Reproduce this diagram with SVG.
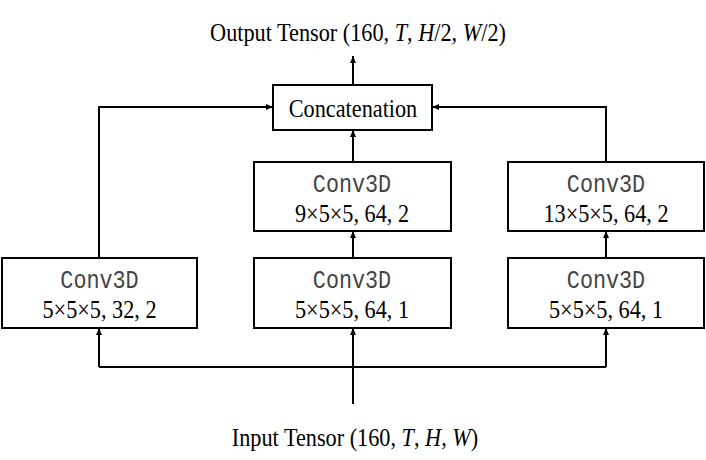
<svg xmlns="http://www.w3.org/2000/svg" width="706" height="460" viewBox="0 0 706 460">
<style>
.box{fill:#fff;stroke:#000;stroke-width:2}
.ln{fill:none;stroke:#000;stroke-width:2}
.serif{font-family:"Liberation Serif","Times New Roman",serif;font-size:25px;fill:#000;text-anchor:middle}
.mono{font-family:"Liberation Mono","Courier New",monospace;font-size:25px;fill:#444;text-anchor:middle}
</style>
<defs>
<marker id="ah" markerWidth="8" markerHeight="8" refX="7" refY="4" orient="auto" markerUnits="userSpaceOnUse">
<path d="M0,1 L7,4 L0,7 z" fill="#000"/>
</marker>
</defs>
<rect width="706" height="460" fill="#fff"/>
<g id="connectors">
<path class="ln" d="M353,85 V56" marker-end="url(#ah)"/>
<path class="ln" d="M99,258 V107 H273" marker-end="url(#ah)"/>
<path class="ln" d="M606,162 V107 H432" marker-end="url(#ah)"/>
<path class="ln" d="M353,162 V130" marker-end="url(#ah)"/>
<path class="ln" d="M353,258 V231" marker-end="url(#ah)"/>
<path class="ln" d="M606,258 V231" marker-end="url(#ah)"/>
<path class="ln" d="M353,404 V328" marker-end="url(#ah)"/>
<path class="ln" d="M99,367 H606"/>
<path class="ln" d="M99,367 V328" marker-end="url(#ah)"/>
<path class="ln" d="M606,367 V328" marker-end="url(#ah)"/>
</g>
<g id="output">
<text class="serif" transform="translate(358,41) scale(0.89,1)">Output Tensor (160, <tspan font-style="italic">T</tspan>, <tspan font-style="italic">H</tspan>/2, <tspan font-style="italic">W</tspan>/2)</text>
</g>
<g id="concat">
<rect class="box" x="273" y="85" width="159" height="45"/>
<text class="serif" transform="translate(353,116.5) scale(0.89,1)">Concatenation</text>
</g>
<g id="conv_left">
<rect class="box" x="2" y="258" width="195" height="70"/>
<text class="mono" transform="translate(99.5,287.5) scale(0.87,1)">Conv3D</text>
<text class="serif" transform="translate(99.5,318) scale(0.89,1)">5×5×5, 32, 2</text>
</g>
<g id="conv_mid_bottom">
<rect class="box" x="254" y="258" width="197" height="70"/>
<text class="mono" transform="translate(352,287.5) scale(0.87,1)">Conv3D</text>
<text class="serif" transform="translate(352,318) scale(0.89,1)">5×5×5, 64, 1</text>
</g>
<g id="conv_mid_top">
<rect class="box" x="254" y="162" width="197" height="69"/>
<text class="mono" transform="translate(352,191.5) scale(0.87,1)">Conv3D</text>
<text class="serif" transform="translate(352,222) scale(0.89,1)">9×5×5, 64, 2</text>
</g>
<g id="conv_right_bottom">
<rect class="box" x="508" y="258" width="196" height="70"/>
<text class="mono" transform="translate(606,287.5) scale(0.87,1)">Conv3D</text>
<text class="serif" transform="translate(606,318) scale(0.89,1)">5×5×5, 64, 1</text>
</g>
<g id="conv_right_top">
<rect class="box" x="508" y="162" width="196" height="69"/>
<text class="mono" transform="translate(606,191.5) scale(0.87,1)">Conv3D</text>
<text class="serif" transform="translate(606,222) scale(0.89,1)">13×5×5, 64, 2</text>
</g>
<g id="input">
<text class="serif" transform="translate(355,446) scale(0.89,1)">Input Tensor (160, <tspan font-style="italic">T</tspan>, <tspan font-style="italic">H</tspan>, <tspan font-style="italic">W</tspan>)</text>
</g>
</svg>
